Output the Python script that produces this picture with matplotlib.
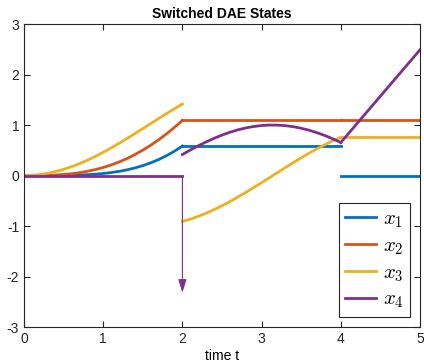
import matplotlib
matplotlib.use('Agg')
import matplotlib.pyplot as plt

plt.rcParams['font.family'] = ['Liberation Sans', 'DejaVu Sans']
plt.rcParams['mathtext.fontset'] = 'cm'
plt.rcParams['axes.unicode_minus'] = False

# mode 1: t in [0, 2]
t1 = [0.0, 0.1, 0.2, 0.3, 0.4, 0.5, 0.6, 0.7, 0.8, 0.9, 1.0,
      1.1, 1.2, 1.3, 1.4, 1.5, 1.6, 1.7, 1.8, 1.9, 2.0]
x1_a = [0, 0.000, 0.000, 0.000, 0.001, 0.003, 0.005, 0.010, 0.017, 0.027, 0.040,
        0.059, 0.082, 0.112, 0.150, 0.196, 0.251, 0.316, 0.393, 0.482, 0.584]
x2_a = [0, 0.000, 0.001, 0.004, 0.011, 0.021, 0.035, 0.056, 0.083, 0.117, 0.159,
        0.209, 0.268, 0.336, 0.415, 0.503, 0.600, 0.708, 0.826, 0.954, 1.091]
x3_a = [0, 0.005, 0.020, 0.045, 0.079, 0.122, 0.175, 0.235, 0.303, 0.378, 0.460,
        0.546, 0.638, 0.733, 0.830, 0.929, 1.029, 1.129, 1.227, 1.323, 1.416]
x4_a = [0] * 21

# mode 2: t in [2, 4]
t2 = [2.0, 2.1, 2.2, 2.3, 2.4, 2.5, 2.6, 2.7, 2.8, 2.9, 3.0,
      3.1, 3.2, 3.3, 3.4, 3.5, 3.6, 3.7, 3.8, 3.9, 4.0]
x1_b = [0.584] * 21
x2_b = [1.091] * 21
x3_b = [-0.909, -0.863, -0.808, -0.746, -0.675, -0.598, -0.516, -0.427, -0.335, -0.239, -0.141,
        -0.042, 0.058, 0.158, 0.256, 0.351, 0.443, 0.530, 0.612, 0.688, 0.757]
x4_b = [0.416, 0.505, 0.589, 0.666, 0.737, 0.801, 0.857, 0.904, 0.942, 0.971, 0.990,
        0.999, 0.998, 0.987, 0.967, 0.936, 0.897, 0.848, 0.791, 0.726, 0.654]

# mode 3: t in [4, 5]
t3 = [4.0, 5.0]
x1_c = [0, 0]
x2_c = [1.091, 1.091]
x3_c = [0.757, 0.757]
x4_c = [0.654, 2.49]

# Dirac impulse in x4 at t = 2
imp_t = 2.0
imp_size = -2.32

colors = ['#0072BD', '#D95319', '#EDB120', '#7E2F8E']
labels = [r'$x_1$', r'$x_2$', r'$x_3$', r'$x_4$']

fig = plt.figure(figsize=(4.24, 3.64), dpi=100)
ax = fig.add_axes([0.0566, 0.1016, 0.934, 0.8324])

segs = [(t1, [x1_a, x2_a, x3_a, x4_a]),
        (t2, [x1_b, x2_b, x3_b, x4_b]),
        (t3, [x1_c, x2_c, x3_c, x4_c])]
for k, (t, ys) in enumerate(segs):
    for i, y in enumerate(ys):
        ax.plot(t, y, color=colors[i], lw=2, label=labels[i] if k == 0 else None)

ax.annotate('', xy=(imp_t, imp_size), xytext=(imp_t, 0),
            arrowprops=dict(arrowstyle='-|>,head_length=0.8,head_width=0.25',
                            color=colors[3], lw=0.8, shrinkA=0, shrinkB=0))

ax.set_xlim(0, 5)
ax.set_ylim(-3, 3)
ax.set_xticks(range(0, 6))
ax.set_yticks(range(-3, 4))
ax.tick_params(direction='in', top=True, right=True, labelsize=10, length=4,
               color='#262626', labelcolor='#262626')
for s in ax.spines.values():
    s.set_color('#262626')
    s.set_linewidth(0.8)
ax.set_title('Switched DAE States', fontsize=10, fontweight='bold', pad=4)
ax.set_xlabel('time t', fontsize=10, labelpad=2)

leg = ax.legend(loc='lower right', fontsize=15, fancybox=False, framealpha=1,
                edgecolor='#262626', handlelength=1.5, borderaxespad=0.5,
                labelspacing=0.3, handletextpad=0.3, borderpad=0.3)
leg.get_frame().set_linewidth(0.8)

fig.savefig('out.png', dpi=100)
